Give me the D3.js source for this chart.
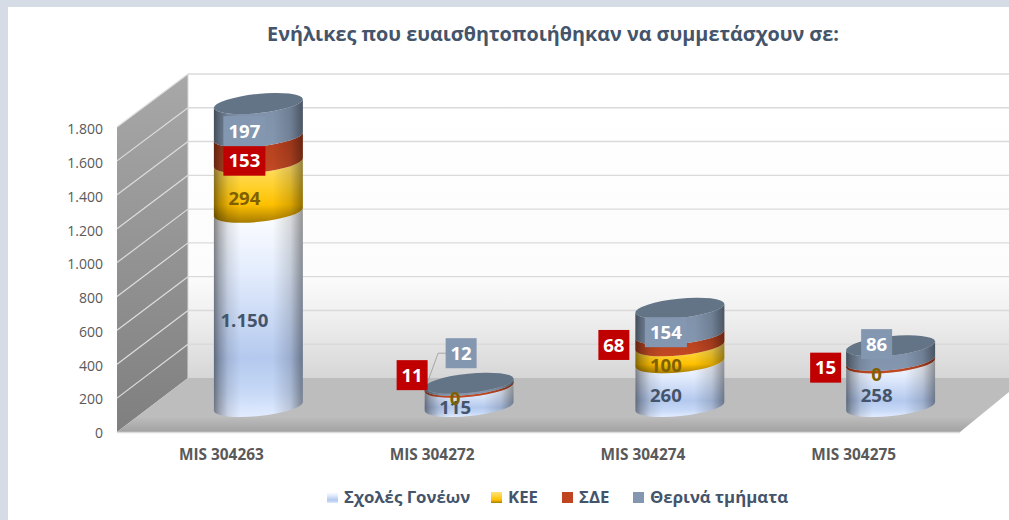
<!DOCTYPE html>
<html><head><meta charset="utf-8"><script src="https://cdn.jsdelivr.net/npm/d3@7"></script>
<style>html,body{margin:0;padding:0;background:#fff}svg{display:block}text{font-family:"Open Sans",sans-serif}</style></head>
<body><div id="c"></div><script>
const categories=["MIS 304263","MIS 304272","MIS 304274","MIS 304275"];
const seriesNames=["Σχολές Γονέων","ΚΕΕ","ΣΔΕ","Θερινά τμήματα"];
const schools=[1150,115,260,258];
const kee=[294,0,100,0];
const sde=[153,11,68,15];
const summer=[197,12,154,86];
const ticks=[0,200,400,600,800,1000,1200,1400,1600,1800];
const seriesValues=[schools,kee,sde,summer];
// label offsets from the default position (same order as seriesValues)
const labelShift=[[[0,0],[0,0],[0,0],[0,0]],[[0,0],[0,0],[0,0],[0,0]],
 [[0,0],[-43,-22],[-52,-6],[-51,-5]],[[0,0],[6,-42],[0,0],[0,-20]]];

const W=1009,H=520;
const svg=d3.select("#c").append("svg").attr("width",W).attr("height",H);
const defs=svg.append("defs");
function grad(id,stops,h){const g=defs.append("linearGradient").attr("id",id)
 .attr("x1",0).attr("y1",0).attr("x2",h?1:0).attr("y2",h?0:1);
 stops.forEach(s=>g.append("stop").attr("offset",s[0]).attr("stop-color",s[1]).attr("stop-opacity",s[2]===undefined?1:s[2]));}
grad("wall",[[0,"#fff"],[.66,"#fcfcfc"],[.8,"#efefef"],[1,"#d6d6d6"]]);
grad("side",[[0,"#a8a8a8"],[1,"#7f7f7f"]]);
grad("floor",[[0,"#bdbdbd"],[.72,"#bdbdbd"],[1,"#a2a2a2"]]);
grad("s0",[[0,"#ffffff"],[.3,"#e4edfd"],[.72,"#b4c9ee"],[.88,"#c6d8f6"],[1,"#e2ecff"]]);
grad("s1",[[0,"#ffe27a"],[.45,"#ffd02a"],[.72,"#ffc000"],[1,"#a67c00"]]);
grad("s2",[[0,"#b23c1c"],[1,"#c24a24"]]);
grad("s3",[[0,"#7f91a9"],[1,"#8497b0"]]);
grad("shade",[[0,"#000",.48],[.06,"#000",.3],[.16,"#000",.1],[.3,"#000",0],[.66,"#000",0],[.86,"#000",.14],[1,"#000",.42]],true);
const fills=["#b4c7e7","#ffc000","#c0441f","#8497b0"];

// page frame
svg.append("rect").attr("width",W).attr("height",H).attr("fill","#d6dce5");
svg.append("rect").attr("x",8).attr("y",7).attr("width",W-8).attr("height",H-7).attr("fill","#fff");

const plotL=117,plotR=960,frontY=432,backY=378,depthX=71;
const yFront=d3.scaleLinear().domain([0,1800]).range([frontY,127]);
const yBack=d3.scaleLinear().domain([0,1800]).range([backY,74]);
const yTick=d3.scaleLinear().domain([0,1800]).range([frontY,128.5]);
const x=d3.scaleBand().domain(categories).range([plotL,plotR]);
const cx=c=>x(c)+x.bandwidth()/2+36;
const yBar=v=>yBack(v)+28.5;

// back wall, side wall, floor
svg.append("rect").attr("x",plotL+depthX).attr("y",yBack(1800)).attr("width",W-plotL-depthX).attr("height",backY-yBack(1800)).attr("fill","url(#wall)");
svg.append("path").attr("d",`M${plotL},${frontY}L${plotL+depthX},${backY}V${yBack(1800)}L${plotL},${yFront(1800)}Z`).attr("fill","url(#side)");
svg.append("path").attr("d",`M${plotL},${frontY}L${plotL+depthX},${backY}H${W}V${backY+14}L${plotR},${frontY}Z`).attr("fill","url(#floor)");
svg.append("line").attr("x1",plotL).attr("x2",plotR).attr("y1",frontY+.5).attr("y2",frontY+.5).attr("stroke","#dcdcdc").attr("stroke-width",1.5);
const grid=svg.append("g");
ticks.filter(t=>t>0).forEach(t=>{
 grid.append("line").attr("x1",plotL+depthX).attr("x2",W).attr("y1",yBack(t)).attr("y2",yBack(t)).attr("stroke","#dadada").attr("stroke-width",1.4);
 grid.append("line").attr("x1",plotL).attr("x2",plotL+depthX).attr("y1",yFront(t)).attr("y2",yBack(t)).attr("stroke","#dedede").attr("stroke-width",1.2);
});
grid.append("line").attr("x1",plotL+depthX).attr("x2",plotL+depthX).attr("y1",yBack(1800)).attr("y2",backY).attr("stroke","#d9d9d9").attr("stroke-width",1);

// y axis
const fmt=d3.formatLocale({decimal:",",thousands:".",grouping:[3],currency:["",""]}).format(",");
const ya=svg.append("g").attr("transform",`translate(${plotL-14},1)`).call(d3.axisLeft(yTick).tickValues(ticks).tickFormat(fmt).tickSize(0).tickPadding(0));
ya.select(".domain").remove();
ya.selectAll("text").attr("fill","#595959").style("font-family","'Open Sans'").style("font-size","14px");
// x axis
const xa=svg.append("g").attr("transform",`translate(-1,${frontY})`).call(d3.axisBottom(x).tickSize(0).tickPadding(17));
xa.select(".domain").remove();
xa.selectAll("text").attr("fill","#595959").style("font-family","'Open Sans'").style("font-size","15.4px").style("font-weight",700);

// cylinders
const rx=44.7,ry=9.6,rot=-5.8,tilt=rx*Math.sin(-rot*Math.PI/180),hw=rx*Math.cos(rot*Math.PI/180);
const bars=svg.append("g");
categories.forEach((c,i)=>{
 let base=0;const X=cx(c);
 seriesValues.forEach((vals,s)=>{
  const y0=yBar(base),y1=yBar(base+vals[i]);base+=vals[i];
  if(vals[i]===0)return;
  const d=`M${X-hw},${y0+tilt}A${rx},${ry},${rot},0,0,${X+hw},${y0-tilt}L${X+hw},${y1-tilt}A${rx},${ry},${rot},0,1,${X-hw},${y1+tilt}Z`;
  bars.append("path").attr("d",d).attr("fill",`url(#s${s})`);
  bars.append("path").attr("d",d).attr("fill","url(#shade)");
 });
 bars.append("ellipse").attr("cx",X).attr("cy",yBar(base)).attr("rx",rx).attr("ry",ry)
  .attr("transform",`rotate(${rot},${X},${yBar(base)})`).attr("fill","#637486");
});

// leader line, from the label of the smallest stack
{const X=cx(categories[1]),b=schools[1]+kee[1]+sde[1]+summer[1]/2,ly=yBar(b)+labelShift[3][1][1]+11;
 svg.append("polyline").attr("points",`${X-23},${ly} ${X-31},${ly} ${X-42},${yBar(b)-1}`)
  .attr("fill","none").attr("stroke","#a6a6a6").attr("stroke-width",1);}

// data labels
const labels=svg.append("g").style("font-size","18.6px").style("font-weight",700).attr("text-anchor","middle");
const boxW=d=>d>=100?42:31;
categories.forEach((c,i)=>{
 let base=0;
 seriesValues.forEach((vals,s)=>{
  const v=vals[i],mid=base+v/2;base+=v;
  const lx=cx(c)-14+labelShift[s][i][0],ly=yBar(mid)+11+labelShift[s][i][1];
  if(s>=2){labels.append("rect").attr("x",lx-boxW(v)/2).attr("y",ly-15).attr("width",boxW(v)).attr("height",30).attr("fill",s===2?"#c00000":"#8497b0");}
  labels.append("text").attr("x",lx).attr("y",ly).attr("dy","0.36em")
   .attr("fill",s>=2?"#fff":s===1?"#7f6000":"#44546a").text(fmt(v));
 });
});

// title
svg.append("text").attr("x",553).attr("y",41).attr("text-anchor","middle").attr("fill","#44546a")
 .style("font-size","19.8px").style("font-weight",700).text("Ενήλικες που ευαισθητοποιήθηκαν να συμμετάσχουν σε:");

// legend
const legendX=[327,491,562,633];
const lg=svg.append("g");
seriesNames.forEach((n,i)=>{
 lg.append("rect").attr("x",legendX[i]).attr("y",492).attr("width",11).attr("height",11)
  .attr("fill",i===0?"url(#s0)":i===1?"url(#s1)":fills[i]);
 lg.append("text").attr("x",legendX[i]+17).attr("y",503).attr("fill","#44546a")
  .style("font-size","16.8px").style("font-weight",700).text(n);
});
</script></body></html>
